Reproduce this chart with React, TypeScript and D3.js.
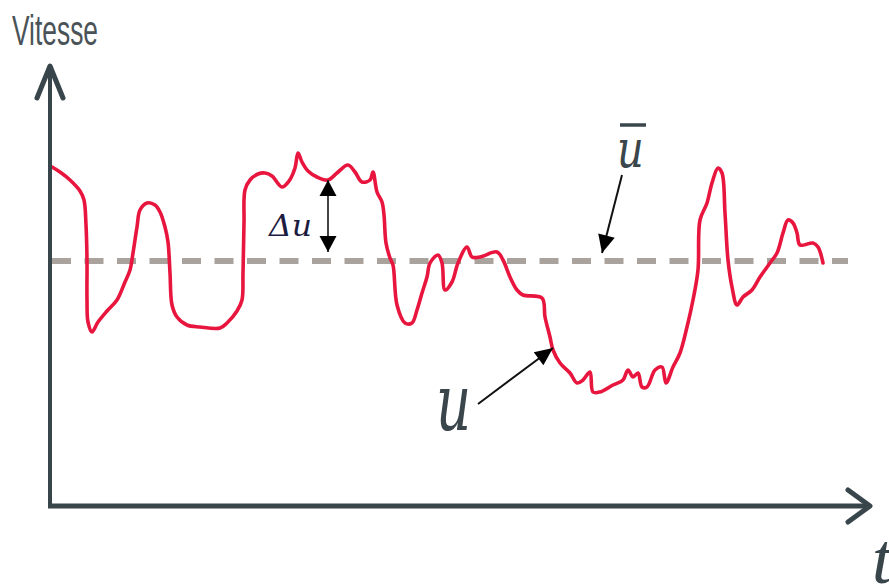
import React from "react";
import * as d3 from "d3";

// Time (arbitrary units) and instantaneous speed u (arbitrary units)
const timeValues = [2,10,20,30,34,36,37,37,38,42,48,57,67,75,80,83,87,90,97,105,110,115,118,120,122,127,137,150,170,177,187,192,193,194,195,200,208,215,222,232,239,245,248,252,258,267,278,287,298,305,312,320,323,327,332,334,336,340,343,347,355,362,367,372,377,380,388,392,395,402,408,417,422,430,447,453,460,467,473,492,495,500,503,510,520,527,533,540,543,550,563,573,578,583,588,592,597,605,612,616,623,630,637,643,648,650,657,662,668,672,675,678,682,687,693,702,710,720,727,733,738,743,747,750,763,768,773];
const speedValues = [339,334,326,315,306,281,246,206,184,174,184,195,206,224,236,253,279,296,303,301,294,279,264,233,201,189,181,179,178,183,195,206,233,283,316,326,332,333,330,319,325,338,353,344,335,329,326,333,341,334,324,326,334,314,304,291,263,248,241,201,183,183,196,213,229,243,251,243,216,224,243,259,249,249,254,246,229,216,211,208,189,169,156,143,133,123,126,134,114,114,121,126,136,129,133,119,119,136,139,123,139,153,179,206,236,286,303,323,338,333,293,246,219,201,209,216,229,243,253,273,286,283,273,261,263,259,243];
const meanSpeed = [245];
const meanSpan = [0, 798];
// Annotation arrows: [t1, v1, t2, v2] (tail -> head)
const deltaArrow = [278, 326, 278, 254];
const uArrow = [428, 102, 503, 158];
const uBarArrow = [572, 331, 552, 253];

const W = 889, H = 588;
const x = d3.scaleLinear().domain([0, 820]).range([50, 870]);
const y = d3.scaleLinear().domain([0, 440]).range([506, 66]);

const axisColor = "#38454b";

function head(x1: number, y1: number, x2: number, y2: number, len: number, half: number) {
  const a = Math.atan2(y2 - y1, x2 - x1);
  const bx = x2 - len * Math.cos(a), by = y2 - len * Math.sin(a);
  const px = -Math.sin(a) * half, py = Math.cos(a) * half;
  return `M${x2},${y2}L${bx + px},${by + py}L${bx - px},${by - py}Z`;
}

export default function App() {
  const pts = timeValues.map((t, i) => [t, speedValues[i]] as [number, number]);
  const line = d3.line<[number, number]>().x(d => x(d[0])).y(d => y(d[1])).curve(d3.curveCatmullRom.alpha(0.5));
  const my = y(meanSpeed[0]);

  const arrow = (a: number[], len: number, half: number, both = false, color = "#111", sw = 2) => {
    const x1 = x(a[0]), y1 = y(a[1]), x2 = x(a[2]), y2 = y(a[3]);
    return (
      <g>
        <line x1={x1} y1={y1} x2={x2} y2={y2} stroke={both ? "#444" : color} strokeWidth={sw} />
        <path d={head(x1, y1, x2, y2, len, half)} fill="#000" />
        {both && <path d={head(x2, y2, x1, y1, len, half)} fill="#000" />}
      </g>
    );
  };

  const ubx = x(uBarArrow[0]);
  return (
    <svg width={W} height={H} style={{ position: "absolute", left: 0, top: 0, background: "#fff" }}>
      {/* Y label */}
      <text x={12} y={45} fontFamily="Liberation Sans, Arial, sans-serif" fontSize={43} fill="#4a5358"
        textLength={86} lengthAdjust="spacingAndGlyphs">Vitesse</text>

      {/* mean dashed line */}
      <line x1={x(meanSpan[0]) + 2} x2={x(meanSpan[1])} y1={my} y2={my} stroke="#aaa29c" strokeWidth={6}
        strokeDasharray="19 13.5" />

      {/* speed curve */}
      <path d={line(pts) || ""} fill="none" stroke="#e8163e" strokeWidth={3.6} strokeLinejoin="round" strokeLinecap="round" />

      {/* axes */}
      <line x1={x(0)} y1={y(0)} x2={x(0)} y2={y(0) - 440} stroke={axisColor} strokeWidth={4} />
      <path d={`M${x(0) - 13},${y(0) - 408}L${x(0)},${y(0) - 440}L${x(0) + 13},${y(0) - 408}`} fill="none" stroke={axisColor} strokeWidth={5} strokeLinecap="round" strokeLinejoin="round" />
      <line x1={x(0) - 2} y1={y(0)} x2={x(820) - 2} y2={y(0)} stroke={axisColor} strokeWidth={5} />
      <path d={`M${x(820) - 22},${y(0) - 16}L${x(820)},${y(0)}L${x(820) - 22},${y(0) + 16}`} fill="none" stroke={axisColor} strokeWidth={5} strokeLinecap="round" strokeLinejoin="round" />
      <text x={872} y={583} fontFamily="Liberation Serif, serif" fontStyle="italic" fontSize={72} fill={axisColor}>t</text>

      {/* delta u annotation */}
      {arrow(deltaArrow, 16, 8.5, true)}
      <text x={269} y={236} fontFamily="DejaVu Serif, serif" fontStyle="italic" fontSize={30} fill="#1c1c40"
        textLength={43} lengthAdjust="spacingAndGlyphs">Δu</text>

      {/* u annotation */}
      {arrow(uArrow, 18, 8)}
      <text x={436} y={430} fontFamily="DejaVu Serif, serif" fontStyle="italic" fontSize={78} fill="#3a464c"
        transform="translate(436,0) scale(0.7,1) translate(-436,0)">u</text>

      {/* u-bar annotation */}
      {arrow(uBarArrow, 18, 8.5)}
      <text x={ubx - 5} y={167} fontFamily="DejaVu Serif, serif" fontStyle="italic" fontSize={52} fill="#3a464c"
        transform={`translate(${ubx - 5},0) scale(0.8,1) translate(${-(ubx - 5)},0)`}>u</text>
      <line x1={ubx - 2} x2={ubx + 24} y1={125} y2={125} stroke="#3a464c" strokeWidth={3.5} />
    </svg>
  );
}
